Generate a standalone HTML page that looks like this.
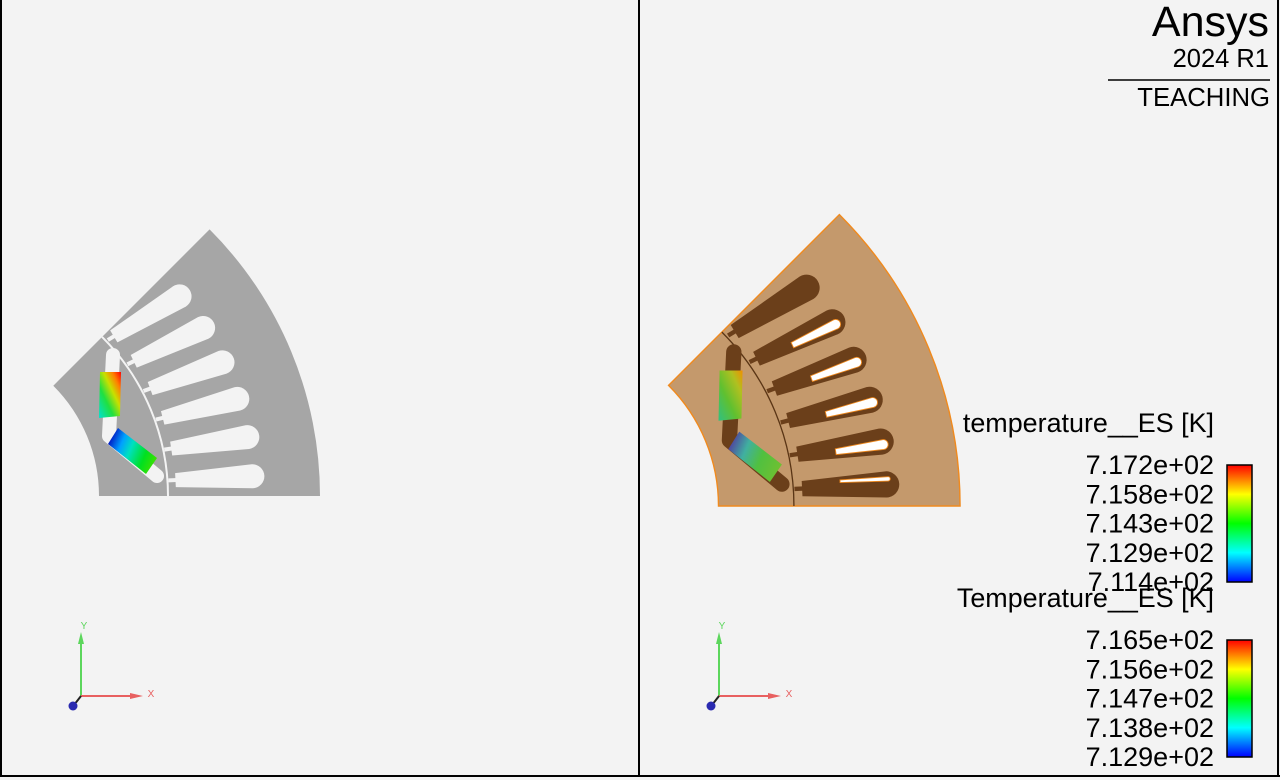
<!DOCTYPE html>
<html><head><meta charset="utf-8"><style>
html,body{margin:0;padding:0;background:#f3f3f3;}
svg{display:block;font-family:"Liberation Sans",sans-serif;}
</style></head><body>
<svg id="root" width="1280" height="780" viewBox="0 0 1280 780">
<defs>
 <linearGradient id="gL1" x1="0" y1="1" x2="1" y2="0">
  <stop offset="0" stop-color="#00e0d0"/><stop offset="0.35" stop-color="#20e040"/><stop offset="0.6" stop-color="#c8e000"/><stop offset="0.8" stop-color="#ff8000"/><stop offset="1" stop-color="#ff0000"/></linearGradient>
 <linearGradient id="gL2" x1="0" y1="0.3" x2="1" y2="0.7">
  <stop offset="0" stop-color="#0010c0"/><stop offset="0.25" stop-color="#00a0ff"/><stop offset="0.45" stop-color="#00e0c0"/><stop offset="0.75" stop-color="#00e020"/><stop offset="1" stop-color="#40e000"/></linearGradient>
 <linearGradient id="gR1" x1="0" y1="1" x2="1" y2="0">
  <stop offset="0" stop-color="#30c080"/><stop offset="0.4" stop-color="#60c030"/><stop offset="0.75" stop-color="#b0c020"/><stop offset="1" stop-color="#f09000"/></linearGradient>
 <linearGradient id="gR2" x1="0" y1="0.3" x2="1" y2="0.7">
  <stop offset="0" stop-color="#5040a0"/><stop offset="0.3" stop-color="#40b0a0"/><stop offset="0.6" stop-color="#50c040"/><stop offset="1" stop-color="#70c030"/></linearGradient>
 <linearGradient id="cbar" x1="0" y1="1" x2="0" y2="0">
  <stop offset="0" stop-color="#0000ff"/><stop offset="0.25" stop-color="#00ffff"/><stop offset="0.5" stop-color="#00ff00"/><stop offset="0.75" stop-color="#ffff00"/><stop offset="1" stop-color="#ff0000"/></linearGradient>
</defs>
<rect x="0" y="0" width="1280" height="780" fill="#f3f3f3"/>
<g id="leftGeo" transform="translate(-57,496)"></g>
<g id="rightGeo" transform="translate(548,506) scale(1.093)"></g>

<line x1="1" y1="0" x2="1" y2="777" stroke="#000" stroke-width="2"/>
<line x1="639" y1="0" x2="639" y2="777" stroke="#000" stroke-width="2"/>
<line x1="0" y1="776" x2="1280" y2="776" stroke="#000" stroke-width="2"/>
<line x1="1278" y1="0" x2="1278" y2="777" stroke="#000" stroke-width="2"/>

<g fill="#000" text-anchor="end">
 <text x="1269" y="36" font-size="43">Ansys</text>
 <text x="1269" y="67" font-size="25.5">2024 R1</text>
 <line x1="1108" y1="80" x2="1270" y2="80" stroke="#000" stroke-width="1.5"/>
 <text x="1270" y="106" font-size="25.7">TEACHING</text>
</g>

<g id="legends"></g>
<g id="triads"></g>
</svg>
<script>
const NS='http://www.w3.org/2000/svg';
const legend1Title='temperature__ES [K]';
const legend1Ticks=['7.172e+02','7.158e+02','7.143e+02','7.129e+02','7.114e+02'];
const legend2Title='Temperature__ES [K]';
const legend2Ticks=['7.165e+02','7.156e+02','7.147e+02','7.138e+02','7.129e+02'];
const slotAngles=[3.75,11.25,18.75,26.25,33.75,41.25];

function mk(tag,attrs,parent){const e=document.createElementNS(NS,tag);for(const k in attrs)e.setAttribute(k,attrs[k]);if(parent)parent.appendChild(e);return e;}
function P(r,deg){const a=deg*Math.PI/180;return [r*Math.cos(a),-r*Math.sin(a)];}
function sectorPath(r0,r1,a0,a1){
 const p1=P(r0,a0),p2=P(r1,a0),p3=P(r1,a1),p4=P(r0,a1);
 return `M${p1} L${p2} A${r1},${r1} 0 0 0 ${p3} L${p4} A${r0},${r0} 0 0 1 ${p1} Z`;
}
function slotPath(r1,r2,w1,w2){
 return `M${r1},${-w1} L${r2},${-w2} A${w2},${w2} 0 0 1 ${r2},${w2} L${r1},${w1} Z`;
}
function buildGeo(g,opt){
 const sec=mk('path',{d:sectorPath(156,377,0,45),fill:opt.fill,stroke:opt.stroke,'stroke-width':opt.sw},g);
 
 
 const gap=mk('path',{d:`M${P(225,0)} A225,225 0 0 0 ${P(225,45)}`,fill:'none',stroke:opt.gap,'stroke-width':opt.gapw},g);
 
 
 slotAngles.forEach((a,i)=>{
  const c=P(276,a);
  const s=mk('g',{transform:`translate(${c[0]},${c[1]}) rotate(${-a*0.76})`},g);
  
  
  mk('rect',{x:-50,y:-2,width:10,height:4,fill:opt.slot},s);
  mk('path',{d:slotPath(-43,34,7,12),fill:opt.slot},s);
  if(opt.white && i<5){
   const off=i===0?-5:3;
   const w=i===0?2:4.5;
   mk('path',{d:`M${-8},${off-w*0.6} L${36},${off-w} A${w},${w} 0 0 1 ${36},${off+w} L${-8},${off+w*0.6} Z`,fill:'#ffffff',stroke:'#f08a1e','stroke-width':0.8},s);
  }
 });
 const pocket=mk('polyline',{points:'170,-141 166,-60 214,-20',fill:'none',stroke:opt.pocket,'stroke-width':14,'stroke-linejoin':'round','stroke-linecap':'round'},g);
 
 
 const m1=mk('polygon',{points:'157,-124 178,-124 177,-80 156,-78',fill:`url(#${opt.g1})`},g);
 
 
 const m2=mk('polygon',{points:'165,-52 175,-68 214,-38 203,-22',fill:`url(#${opt.g2})`},g);
 
 
}
buildGeo(document.getElementById('leftGeo'),{fill:'#a6a6a6',stroke:'none',sw:0,gap:'#f3f3f3',gapw:2,slot:'#f3f3f3',pocket:'#f3f3f3',g1:'gL1',g2:'gL2',white:false});
buildGeo(document.getElementById('rightGeo'),{fill:'#c4996c',stroke:'#f08a1e',sw:1.3,gap:'#5a3515',gapw:1.2,slot:'#6b3f1a',pocket:'#6b3f1a',g1:'gR1',g2:'gR2',white:true});

function legend(title,ticks,titleY,barTop,name){
 const lg=document.getElementById('legends');
 const g=mk('g',{},lg);
 
 
 const t=mk('text',{x:1214,y:titleY,'font-size':26.9,'text-anchor':'end',fill:'#000'},g);
 t.textContent=title;
 
 
 const h=117;
 const bar=mk('rect',{x:1227,y:barTop,width:25,height:h,fill:'url(#cbar)',stroke:'#000','stroke-width':1.5},g);
 
 
 ticks.forEach((v,i)=>{
  const y=barTop+i*h/(ticks.length-1)+9;
  const tx=mk('text',{x:1214,y:y,'font-size':27,'text-anchor':'end',fill:'#000'},g);
  tx.textContent=v;
  
  
 });
}
legend(legend1Title,legend1Ticks,432,465,'legend-temperature-lower');
legend(legend2Title,legend2Ticks,607,640,'legend-temperature-upper');

function triad(ox,name){
 const g=mk('g',{},document.getElementById('triads'));
 
 
 const oy=696;
 mk('line',{x1:ox,y1:oy,x2:ox,y2:641,stroke:'#5cd65c','stroke-width':2},g);
 mk('polygon',{points:`${ox-3},${644} ${ox+3},${644} ${ox},${632}`,fill:'#5cd65c'},g);
 mk('line',{x1:ox,y1:oy,x2:ox+52,y2:oy,stroke:'#e86060','stroke-width':2},g);
 mk('polygon',{points:`${ox+49},${oy-3} ${ox+49},${oy+3} ${ox+62},${oy}`,fill:'#e86060'},g);
 mk('line',{x1:ox,y1:oy,x2:ox-7,y2:oy+9,stroke:'#222','stroke-width':2},g);
 mk('circle',{cx:ox-8,cy:oy+10,r:4.5,fill:'#2a2ab0'},g);
 const ty=mk('text',{x:ox+3,y:629,'font-size':10,fill:'#5cd65c','text-anchor':'middle'},g);
 ty.textContent='Y';
 const tx=mk('text',{x:ox+70,y:oy+1,'font-size':10,fill:'#e86060','text-anchor':'middle'},g);
 tx.textContent='X';
}
triad(81,'left-axis-triad');
triad(719,'right-axis-triad');
</script>
</body></html>
